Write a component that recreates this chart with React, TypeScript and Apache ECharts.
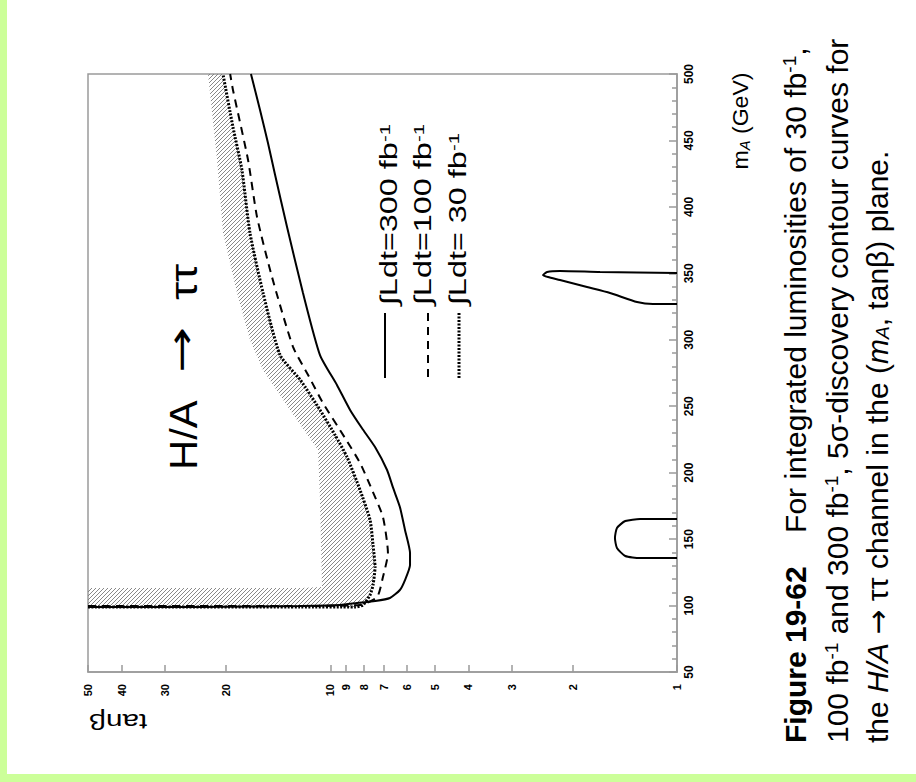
import React, { useEffect, useRef } from 'react';
import * as echarts from 'echarts';

// ---- data (tanβ, mA [GeV]) ----
const TANB_TICKS = [1, 2, 3, 4, 5, 6, 7, 8, 9, 10, 20, 30, 40, 50];
const TANB_RANGE = [1, 50];
const MA_RANGE = [50, 500];
const MA_STEP = 50;

const CURVE_300 = [
  [50, 98.9], [23.8, 98.9], [12.2, 99.7], [9.37, 100.4], [8.37, 101.9], [7.43, 103.4],
  [6.73, 105.7], [6.3, 111.7], [6.09, 119.2], [5.89, 130.5], [5.89, 139.5], [6.09, 156.9],
  [6.3, 174.2], [6.59, 188.5], [6.86, 202], [7.43, 219.3], [8.11, 233.6], [8.77, 247.2],
  [9.57, 266], [10.71, 288.5], [11.99, 335.2], [13.33, 384.9], [14.43, 424], [15.13, 448.1],
  [15.95, 472.9], [16.94, 500],
];
const LOOP_300 = [
  [1.0, 165.1], [1.278, 165.1], [1.41, 163.6], [1.49, 158.4], [1.51, 150.8], [1.49, 143.3],
  [1.41, 137.3], [1.278, 135.8], [1.0, 135.8],
];
const SPIKE_300 = [
  [1.0, 326.9], [1.173, 326.9], [1.304, 328.4], [1.56, 335.2], [1.818, 339.7], [2.175, 345],
  [2.355, 347.2], [2.435, 348.7], [2.37, 351], [2.175, 351.8], [1.667, 351], [1.0, 350.3],
];
const CURVE_100 = [
  [50, 99.7], [12.2, 99.7], [8.21, 100.4], [7.33, 106.4], [7.05, 121.5], [6.82, 139.5],
  [7.05, 166.6], [7.58, 187], [8.21, 207.3], [9.07, 226.1], [10.5, 252.4], [11.59, 273.5],
  [12.81, 294.6], [14.73, 347.2], [16.27, 392.4], [17.27, 435.3], [19.09, 488], [19.45, 500],
];
const CURVE_30 = [
  [50, 98.9], [12.2, 98.9], [8.49, 98.9], [8.05, 100.4], [7.68, 107.9], [7.53, 115.5],
  [7.43, 129], [7.53, 145.6], [7.68, 164.4], [8.21, 187], [8.95, 211.8], [9.69, 228.3],
  [10.71, 247.2], [12.2, 269.7], [13.96, 288.5], [15.63, 335.2], [17.05, 380.4],
  [17.99, 427.8], [19.09, 460.1], [20.38, 499.3], [20.4, 500],
];
// inner edge of the hatched band along the 30 fb-1 contour (top -> bottom-left)
const HATCH_INNER = [
  [22.53, 500], [21.22, 435.3], [20.39, 380.3], [18.58, 335.2], [17.05, 299.8], [15.64, 277.3],
  [13.07, 247.2], [10.85, 217.1], [10.71, 179.4], [10.57, 114], [12.2, 113.2], [50, 113.2],
];

const LEGEND_LABELS = ['∫Ldt=300 fb', '∫Ldt=100 fb', '∫Ldt= 30 fb'];
const LEGEND_SUP = '-1';

const CAPTION = [
  '{b|Figure 19-62}    For integrated luminosities of 30 fb{sup|-1},',
  '100 fb{sup|-1} and 300 fb{sup|-1}, 5σ-discovery contour curves for',
  'the {i|H/A} {arr|→} ττ channel in the ({i|m}{sub|A}, tanβ) plane.',
];

const FONT = "'Liberation Sans', Arial, Helvetica, sans-serif";
const FRAME = '#9a9a9a';

function hatchFill() {
  const s = 4;
  const c = document.createElement('canvas');
  c.width = s;
  c.height = s;
  const ctx = c.getContext('2d');
  if (ctx) {
    ctx.strokeStyle = '#7a7a7a';
    ctx.lineWidth = 0.9;
    ctx.beginPath();
    ctx.moveTo(0, s); ctx.lineTo(s, 0);
    ctx.moveTo(-1, 1); ctx.lineTo(1, -1);
    ctx.moveTo(s - 1, s + 1); ctx.lineTo(s + 1, s - 1);
    ctx.stroke();
  }
  return { image: c.toDataURL(), repeat: 'repeat', imageWidth: s, imageHeight: s };
}

function richSet(fs: number) {
  return {
    b: { fontSize: fs, fontFamily: FONT, fontWeight: 'bold', fill: '#000' },
    i: { fontSize: fs, fontFamily: FONT, fontStyle: 'italic', fill: '#000' },
    arr: { fontSize: fs, fontFamily: "'DejaVu Sans', sans-serif", fill: '#000' },
    sup: { fontSize: Math.round(fs * 0.62), fontFamily: FONT, verticalAlign: 'top', fill: '#000' },
    sub: { fontSize: Math.round(fs * 0.62), fontFamily: FONT, fontStyle: 'italic', verticalAlign: 'bottom', fill: '#000' },
  };
}

function txt(x: number, y: number, text: string, fs: number, o: any = {}) {
  const align = o.align || 'left';
  return {
    type: 'text', x, y, rotation: o.rotation ?? Math.PI / 2, scaleX: o.scaleX ?? 1, scaleY: o.scaleY ?? 1,
    silent: true, z: 20,
    style: {
      text, fontSize: fs, fontFamily: o.fontFamily || FONT, fontWeight: o.fontWeight || 'normal', fill: '#000',
      align, textAlign: align, verticalAlign: 'middle', textVerticalAlign: 'middle',
      rich: richSet(fs),
    },
  };
}

function line(data: number[][], type: any, width: number) {
  return {
    type: 'line', xAxisIndex: 0, yAxisIndex: 0, data, showSymbol: false, symbol: 'none',
    smooth: 0.2, clip: true, silent: true, z: 3,
    lineStyle: { color: '#000', width, type, cap: 'butt' },
  };
}

export default function App() {
  const ref = useRef<HTMLDivElement>(null);
  useEffect(() => {
    if (!ref.current) return;
    const chart = echarts.init(ref.current, null, { renderer: 'svg' });
    const hatchPoly = CURVE_30.concat(HATCH_INNER);
    const tickVals = TANB_TICKS.map((v) => Math.log10(v));
    const lineStyle = { color: FRAME, width: 1.5 };
    const legendX = [389, 423, 458];
    const sampleX = [385, 428, 459];
    const sampleType: any[] = ['solid', [8, 6], [2, 1.5]];
    const sampleW = [2, 2, 3];

    const graphics: any[] = [
      { type: 'rect', shape: { x: 0, y: 0, width: 7, height: 782 }, style: { fill: '#ccff99' }, silent: true },
      { type: 'rect', shape: { x: 0, y: 774, width: 916, height: 8 }, style: { fill: '#ccff99' }, silent: true },
      // title
      txt(184, 470, 'H/A', 38, { scaleX: 1.1 }),
      txt(181, 350, '→', 38, { align: 'center', scaleX: 1.45, fontFamily: "'DejaVu Sans', sans-serif" }),
      txt(184, 300, 'ττ', 38, { scaleX: 1.2 }),
      // axis names
      txt(741, 121, 'm{sub|A} (GeV)', 22, { align: 'center', scaleX: 1.05 }),
      txt(118, 722, 'tanβ', 22, { align: 'center', rotation: Math.PI, scaleX: 1.35 }),
    ];
    LEGEND_LABELS.forEach((lab, i) => {
      graphics.push(txt(legendX[i], 305, lab + '{sup|' + LEGEND_SUP + '}', 24, { scaleX: 1.35 }));
      graphics.push({
        type: 'line', silent: true, z: 20,
        shape: { x1: sampleX[i], y1: 313, x2: sampleX[i], y2: 378 },
        style: { stroke: '#000', lineWidth: sampleW[i], lineDash: sampleType[i] === 'solid' ? null : sampleType[i] },
      });
    });
    const capX = [795, 837, 877];
    CAPTION.forEach((c, i) => graphics.push(txt(capX[i], 743, c, 30)));

    chart.setOption({
      animation: false,
      backgroundColor: '#ffffff',
      grid: {
        left: 88, top: 74, width: 589, height: 598, show: true,
        borderColor: FRAME, borderWidth: 1.5, backgroundColor: 'transparent',
        outerBoundsMode: 'none', containLabel: false,
      },
      xAxis: [
        { type: 'log', logBase: 10, min: TANB_RANGE[0], max: TANB_RANGE[1], inverse: true, position: 'top', show: false },
        {
          type: 'value', min: 0, max: Math.log10(TANB_RANGE[1]), inverse: true, position: 'bottom',
          axisLine: { show: true, lineStyle },
          axisTick: { show: true, inside: true, length: 7, customValues: tickVals, lineStyle },
          axisLabel: {
            customValues: tickVals, rotate: 90, margin: 12, fontSize: 11, fontWeight: 'bold',
            fontFamily: FONT, color: '#000',
            formatter: (v: number) => String(Math.round(Math.pow(10, v))),
          },
          splitLine: { show: false },
        },
      ],
      yAxis: {
        type: 'value', min: MA_RANGE[0], max: MA_RANGE[1], interval: MA_STEP, position: 'right',
        axisLine: { show: true, lineStyle },
        axisTick: { show: true, inside: true, length: 8, lineStyle },
        minorTick: { show: true, splitNumber: 5, length: 5, lineStyle },
        axisLabel: { rotate: 90, margin: 6, fontSize: 12, fontWeight: 'bold', fontFamily: FONT, color: '#000' },
        splitLine: { show: false },
      },
      series: [
        {
          type: 'custom', xAxisIndex: 0, yAxisIndex: 0, data: [[10, 200]], silent: true, z: 1, clip: true,
          renderItem: (_p: any, api: any) => ({
            type: 'polygon',
            shape: { points: hatchPoly.map((p) => api.coord(p)) },
            style: { fill: hatchFill(), stroke: null },
          }),
        },
        line(CURVE_300, 'solid', 2),
        line(LOOP_300, 'solid', 2),
        line(SPIKE_300, 'solid', 2),
        line(CURVE_100, [8, 6], 2),
        line(CURVE_30, [2, 1.5], 3),
      ],
      graphic: { elements: graphics },
    });
    return () => chart.dispose();
  }, []);
  return (
    <div
      ref={ref}
      style={{ position: 'absolute', left: 0, top: 0, width: 916, height: 782, background: '#fff' }}
    />
  );
}
